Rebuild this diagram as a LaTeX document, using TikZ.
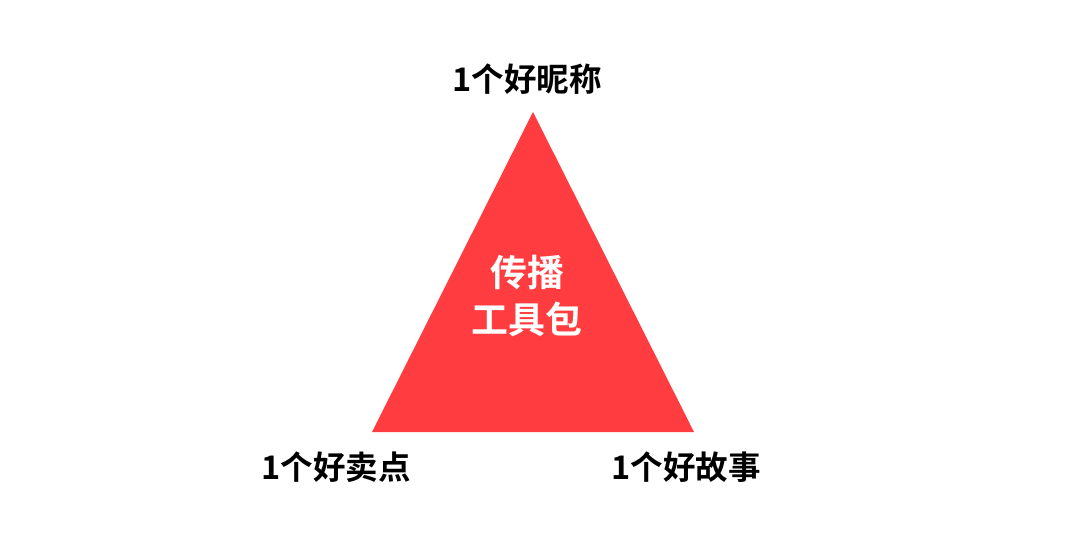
\documentclass[tikz,border=0pt]{standalone}
\usepackage{fontspec}
\setmainfont{Noto Sans CJK SC}[BoldFont={Noto Sans CJK SC Bold}]
\usepackage{tikz}
\usetikzlibrary{positioning}
\definecolor{tred}{HTML}{FF3C3F}

\begin{document}
\begin{tikzpicture}
    [x=0.02cm,y=-0.02cm,
     lbl/.style={font=\fontsize{18.5}{22}\selectfont\bfseries,inner sep=0pt},
     core/.style={font=\fontsize{21}{27}\selectfont\bfseries,text=white,align=center,inner sep=0pt}]

    \useasboundingbox (0,0) rectangle (1080,534);

    \coordinate (top) at (533,112);
    \coordinate (left) at (372,432);
    \coordinate (right) at (694,432);
    \fill[tred] (top) -- (left) -- (right) -- cycle;

    \node[core] (tool) at (527,296) {传播\\工具包};

    \node[lbl] (nick) at (527,79) {1个好昵称};
    \node[lbl] (sell) at (336,467) {1个好卖点};
    \node[lbl] (story) at (686,467) {1个好故事};
  \end{tikzpicture}
\end{document}
